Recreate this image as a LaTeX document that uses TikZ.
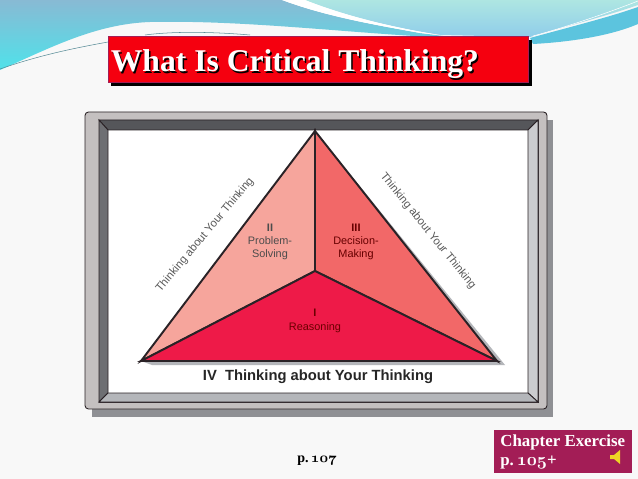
\documentclass[tikz,border=0pt]{standalone}
\usepackage{fontspec}
\usepackage{amsmath}
\newfontfamily\titlefont{Liberation Serif}
\newfontfamily\figfont{Liberation Sans}
\newcommand{\oldnum}[1]{{\usefont{OML}{cmm}{b}{it}#1}}
\definecolor{pagebg}{HTML}{F8F8F8}
\definecolor{barred}{HTML}{F5000F}
\definecolor{framegrey}{HTML}{C4C0C0}
\definecolor{framedark}{HTML}{55565A}
\definecolor{frameside}{HTML}{B4B6BA}
\definecolor{shadowgrey}{HTML}{8F9094}
\definecolor{edgedark}{HTML}{2A2226}
\definecolor{wedgeone}{HTML}{EE1A48}
\definecolor{wedgetwo}{HTML}{F6A59C}
\definecolor{wedgethree}{HTML}{F26868}
\definecolor{boxplum}{HTML}{A31D56}
\definecolor{wavecyan}{HTML}{4FE2EA}
\definecolor{wavemid}{HTML}{7CC6D8}
\definecolor{waveblue}{HTML}{88BAD4}
\definecolor{wavepale}{HTML}{AEE6E2}
\definecolor{wavesky}{HTML}{8FCDEA}
\definecolor{waveband}{HTML}{5CC4DE}
\tikzset{
  wedge/.style={draw=edgedark,line width=1.1pt,line join=miter},
  framepart/.style={draw=edgedark,line width=0.5pt},
  seclabel/.style={font=\figfont\fontsize{6.2}{7.6}\selectfont,align=center},
  sidelabel/.style={font=\figfont\fontsize{6.4}{7}\selectfont,text=black!65},
  pagelabel/.style={font=\titlefont\bfseries\fontsize{8}{10}\selectfont},
  notelabel/.style={font=\titlefont\bfseries\fontsize{9.6}{11}\selectfont,text=white,anchor=west,inner sep=0pt},
  waveline/.style={draw=wavemid!70!black,line width=0.3pt}
}
\begin{document}
\begin{tikzpicture}[x=0.02cm,y=-0.02cm]
  \useasboundingbox (0,0) rectangle (638,479);
  \fill[pagebg] (0,0) rectangle (638,479);

  % waves along the top edge
  \shade[top color=waveblue,middle color=wavemid,bottom color=wavecyan]
    (0,0) -- (0,70) .. controls (50,48) and (95,24) .. (150,22)
    .. controls (240,20) and (340,32) .. (431,37) -- (443,36) -- (420,33)
    .. controls (370,24) and (325,16) .. (282,0) -- cycle;
  \shade[top color=wavepale,bottom color=wavesky]
    (305,0) .. controls (345,16) and (395,28) .. (440,35) -- (530,37)
    .. controls (570,25) and (610,15) .. (638,5) -- (638,0) -- cycle;
  \fill[white] (282,0) .. controls (325,16) and (370,24) .. (420,33) -- (440,35)
    .. controls (395,28) and (345,16) .. (305,0) -- cycle;
  \fill[waveband] (530,38) .. controls (570,27) and (610,17) .. (638,7) -- (638,24)
    .. controls (610,36) and (570,42) .. (533,44) -- cycle;
  \draw[waveline] (0,69) .. controls (40,55) and (75,48) .. (108,42);
  \draw[waveline] (145,35) .. controls (175,31) and (215,32) .. (250,35);
  \draw[white,line width=0.3pt] (533,36) .. controls (570,26) and (610,12) .. (638,1);

  % title bar
  \node[fill=black,minimum width=422pt*0.5669,minimum height=46pt*0.5669,inner sep=0pt,anchor=north west] (barshadow) at (111,40) {};
  \node[fill=barred,draw=boxplum,line width=0.6pt,minimum width=422pt*0.5669,minimum height=46pt*0.5669,inner sep=0pt,anchor=north west] (titlebar) at (108,36) {};
  \node[font=\titlefont\bfseries\fontsize{18}{20}\selectfont,text=black,anchor=west,inner sep=0pt] (titleshade) at (112,66) {What Is Critical Thinking?};
  \node[font=\titlefont\bfseries\fontsize{18}{20}\selectfont,text=white,anchor=west,inner sep=0pt] (title) at (110.5,64.5) {What Is Critical Thinking?};

  % picture frame
  \fill[shadowgrey] (92,120) rectangle (553,417);
  \filldraw[fill=framegrey,framepart,rounded corners=2pt] (85,112) rectangle (547,409);
  \filldraw[fill=white,framepart] (99,120) rectangle (538,402);
  \fill[white] (108,130) rectangle (528,393);
  \filldraw[fill=framedark,framepart] (99,120) -- (538,120) -- (528,130) -- (108,130) -- cycle;
  \filldraw[fill=framedark!85!white,framepart] (99,120) -- (108,130) -- (108,393) -- (99,402) -- cycle;
  \filldraw[fill=frameside!70!white,framepart] (538,120) -- (528,130) -- (528,393) -- (538,402) -- cycle;
  \filldraw[fill=frameside,framepart] (99,402) -- (108,393) -- (528,393) -- (538,402) -- cycle;

  % triangle
  \coordinate (apex) at (315,131);
  \coordinate (leftc) at (141,361);
  \coordinate (rightc) at (497,361);
  \coordinate (mid) at (315,271);
  \fill[frameside] (apex) -- (505,365) -- (152,365) -- (leftc) -- (rightc) -- cycle;
  \filldraw[fill=wedgetwo,wedge] (apex) -- (leftc) -- (mid) -- cycle;
  \filldraw[fill=wedgethree,wedge] (apex) -- (rightc) -- (mid) -- cycle;
  \filldraw[fill=wedgeone,wedge] (mid) -- (leftc) -- (rightc) -- cycle;

  \node[seclabel,text=black!70] (solving) at (270,242) {{\bfseries II}\\Problem-\\Solving};
  \node[seclabel,text=black!60!red] (making) at (356,242) {{\bfseries III}\\Decision-\\Making};
  \node[seclabel,text=black!58!red] (reasoning) at (315,321) {{\bfseries I}\\Reasoning};

  \node[sidelabel,rotate=50] (leftside) at (205,235) {Thinking about Your Thinking};
  \node[sidelabel,rotate=-51] (rightside) at (428,231) {Thinking about Your Thinking};
  \node[font=\figfont\bfseries\fontsize{8.4}{9}\selectfont,text=black!85] (fourth) at (318,377) {IV\ \ Thinking about Your Thinking};

  % bottom notes
  \node[pagelabel,text=black] (pageref) at (317,461) {p.\,\oldnum{107}};
  \node[fill=boxplum,minimum width=138pt*0.5669,minimum height=43pt*0.5669,inner sep=0pt,anchor=north west] (notebox) at (494,430) {};
  \node[notelabel] (notea) at (500,442) {Chapter Exercise};
  \node[notelabel] (noteb) at (500,463) {p.\,\oldnum{105}+};

  % speaker
  \fill[yellow!70!brown] (610,455) -- (614,455) -- (620,450) -- (620,464) -- (614,459) -- (610,459) -- cycle;
\end{tikzpicture}
\end{document}
